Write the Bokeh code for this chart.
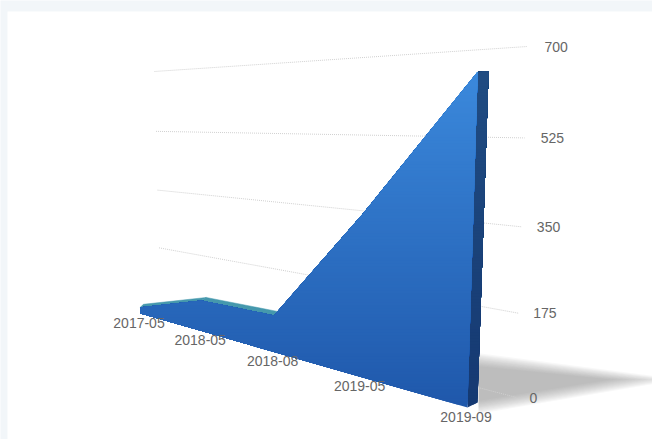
import numpy as np
from bokeh.embed import file_html
from bokeh.models import Range1d
from bokeh.plotting import figure
from bokeh.resources import INLINE
from bokeh.core.properties import value

categories = ["2017-05", "2018-05", "2018-08", "2019-05", "2019-09"]
values = [18, 82, 90, 360, 650]
ticks = [0, 175, 350, 525, 700]
V_MAX = 700


def homography(corners):
    """Unit square (u, v) -> screen, corners ordered (0,0), (1,0), (1,1), (0,1)."""
    src = [(0, 0), (1, 0), (1, 1), (0, 1)]
    a, b = [], []
    for (u, v), (x, y) in zip(src, corners):
        a.append([u, v, 1, 0, 0, 0, -u * x, -v * x])
        a.append([0, 0, 0, u, v, 1, -u * y, -v * y])
        b += [x, y]
    h = np.append(np.linalg.solve(np.array(a, float), np.array(b, float)), 1).reshape(3, 3)

    def project(u, val):
        q = h @ np.array([u, val / V_MAX, 1.0])
        return q[0] / q[2], q[1] / q[2]
    return project


# Planes of the 3D scene: front of the area, rear of the area, back wall
front = homography([(140, 313), (467, 407), (478, 44), (134, 63)])
rear = homography([(143, 310), (477, 402), (489, 44), (137, 60)])
wall = homography([(160, 304), (516, 397), (527, 46), (154, 71)])

n = len(categories)
us = [i / (n - 1) for i in range(n)]
front_top = [front(u, v) for u, v in zip(us, values)]
rear_top = [rear(u, v) for u, v in zip(us, values)]
front_base = [front(u, 0) for u in us]
rear_base = [rear(u, 0) for u in us]


def clip_above(poly, y_limit):
    """Keep the part of a polygon lying above a horizontal screen line."""
    out = []
    for k, (x0, y0) in enumerate(poly):
        x1, y1 = poly[(k + 1) % len(poly)]
        if y0 <= y_limit:
            out.append((x0, y0))
        if (y0 <= y_limit) != (y1 <= y_limit):
            t = (y_limit - y0) / (y1 - y0)
            out.append((x0 + t * (x1 - x0), y_limit))
    return out


def mix(c0, c1, t):
    return "#%02x%02x%02x" % tuple(int(round(a + (b - a) * t)) for a, b in zip(c0, c1))


def shaded(p, poly, stops, y_top, y_bottom, step=3):
    """Vertical gradient: paint from the bottom colour upward, overlapping each band."""
    ys = np.arange(y_bottom, y_top - step, -step)
    for y in ys:
        t = float(np.clip((y_bottom - y) / (y_bottom - y_top), 0, 1))
        part = clip_above(poly, y)
        if len(part) >= 3:
            px, py = zip(*part)
            p.patch(px, py, fill_color=mix(stops[0], stops[1], t), line_color=None)


p = figure(width=652, height=439, output_backend="svg", toolbar_location=None,
           x_range=Range1d(0, 652), y_range=Range1d(439, 0), min_border=0,
           background_fill_color="#f2f6f9", border_fill_color="#f2f6f9")
p.axis.visible = False
p.grid.visible = False
p.outline_line_color = None

# White panel
p.quad(left=7, right=652, top=11, bottom=439, fill_color="#ffffff", line_color=None)

# Soft floor shadow behind the right end: translucent wedges tightening toward the core
for d in np.linspace(0, 1, 12):
    y_upper = 353 + 13 * d
    y_lower = 413 - 13 * d
    tip = 680 - 70 * d
    p.patch([440, 480, tip, 480, 440], [y_upper, y_upper, 379, y_lower, y_lower],
            fill_color="#777777", fill_alpha=0.056, line_color=None)
p.quad(left=430, right=478, top=345, bottom=425, fill_color="#ffffff", line_color=None)

# Gridlines and value labels on the back wall
for t in ticks:
    x0, y0 = wall(0, t)
    x1, y1 = wall(1, t)
    p.line([x0, x1], [y0, y1], line_color="#d0d0d0", line_width=1, line_dash="1 1")
    p.text([x1 + 13 + 4 * t / V_MAX], [y1], text=[str(t)], text_font=value("Liberation Sans"),
           text_font_size="14px", text_color="#666666", text_align="left", text_baseline="middle")

# Top surface of the ribbon
for i in range(n - 1):
    xs = [front_top[i][0], front_top[i + 1][0], rear_top[i + 1][0], rear_top[i][0]]
    ys = [front_top[i][1], front_top[i + 1][1], rear_top[i + 1][1], rear_top[i][1]]
    p.patch(xs, ys, fill_color="#4598ad", line_color="#4598ad", line_width=0.5)

# Right end face
end_face = [front_base[-1], rear_base[-1], rear_top[-1], front_top[-1]]
shaded(p, end_face, ((0x15, 0x39, 0x72), (0x20, 0x4c, 0x82)), front_top[-1][1], front_base[-1][1])

# Front face
front_face = front_base + front_top[::-1]
shaded(p, front_face, ((0x1f, 0x58, 0xab), (0x3b, 0x89, 0xdc)), front_top[-1][1], front_base[-1][1])

# Category labels below the front edge
for name, (x, y) in zip(categories, front_base):
    p.text([x - 1.5], [y + 9], text=[name], text_font=value("Liberation Sans"), text_font_size="14px",
           text_color="#666666", text_align="center", text_baseline="middle")

open("out.html", "w").write(file_html(p, INLINE))
